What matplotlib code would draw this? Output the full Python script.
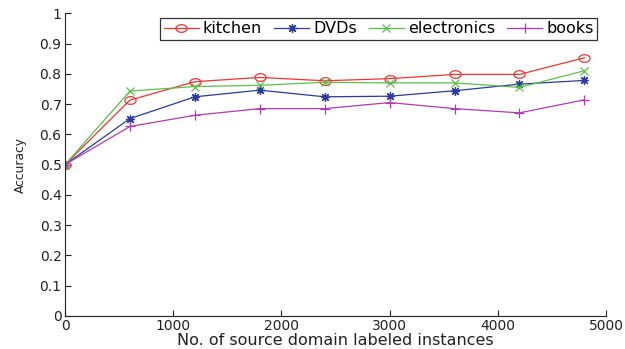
import matplotlib
matplotlib.use("Agg")
import numpy as np
import matplotlib.pyplot as plt
from matplotlib.path import Path

x_vals = [0, 600, 1200, 1800, 2400, 3000, 3600, 4200, 4800]
kitchen = [0.50, 0.713, 0.774, 0.788, 0.777, 0.784, 0.798, 0.798, 0.853]
dvds = [0.50, 0.652, 0.724, 0.746, 0.724, 0.726, 0.744, 0.766, 0.778]
electronics = [0.50, 0.743, 0.758, 0.762, 0.772, 0.770, 0.770, 0.755, 0.810]
books = [0.50, 0.626, 0.663, 0.685, 0.685, 0.705, 0.685, 0.671, 0.714]
series_names = ["kitchen", "DVDs", "electronics", "books"]
x_ticks = [0, 1000, 2000, 3000, 4000, 5000]
y_ticks = [0, 0.1, 0.2, 0.3, 0.4, 0.5, 0.6, 0.7, 0.8, 0.9, 1]
y_tick_labels = ["0", "0.1", "0.2", "0.3", "0.4", "0.5", "0.6", "0.7", "0.8", "0.9", "1"]

plt.rcParams['font.family'] = ['DejaVu Sans']

# slightly wide ellipse marker (reference circles look horizontally stretched)
t = np.linspace(0, 2 * np.pi, 40)
ell_verts = np.column_stack([1.45 * np.cos(t), np.sin(t)])
ellipse = Path(ell_verts, closed=True)

fig = plt.figure(figsize=(6.25, 3.49), dpi=100)
ax = fig.add_axes([0.104, 0.0946, 0.8656, 0.8674])

styles = [
    dict(color='#f03535', marker=ellipse, mfc='none', ms=8, mew=0.9),
    dict(color='#2a3a9e', marker=(8, 2, 0), ms=6.5, mew=0.9),
    dict(color='#5cbf4a', marker='x', ms=5.5, mew=0.9),
    dict(color='#b03cb0', marker='+', ms=7, mew=0.9),
]
for data, name, st in zip([kitchen, dvds, electronics, books], series_names, styles):
    ax.plot(x_vals, data, lw=0.9, label=name, **st)

ax.set_xlim(0, 5000)
ax.set_ylim(0, 1)
ax.set_xticks(x_ticks)
ax.set_xticklabels([str(v) for v in x_ticks])
ax.set_yticks(y_ticks)
ax.set_yticklabels(y_tick_labels)
ax.tick_params(direction='in', length=4, width=0.8, labelsize=10, colors='#222222', pad=2.5)
ax.tick_params(axis='x', pad=2)
ax.spines['top'].set_visible(False)
ax.spines['right'].set_visible(False)
for s in ['left', 'bottom']:
    ax.spines[s].set_linewidth(0.8)
    ax.spines[s].set_color('#222222')

ax.set_xlabel("No. of source domain labeled instances", fontsize=11.5, labelpad=0, color='#222222')
ax.set_ylabel("Accuracy", fontsize=8.8, labelpad=9, color='#222222')

leg = ax.legend(ncol=4, loc='upper right', bbox_to_anchor=(0.983, 0.9835), fontsize=11.5,
                frameon=True, fancybox=False, edgecolor='black', handlelength=2.2,
                columnspacing=0.75, handletextpad=0.25, borderpad=0.2, borderaxespad=0.0,
                numpoints=1)
leg.get_frame().set_linewidth(0.9)

fig.savefig("out.png", dpi=100)
